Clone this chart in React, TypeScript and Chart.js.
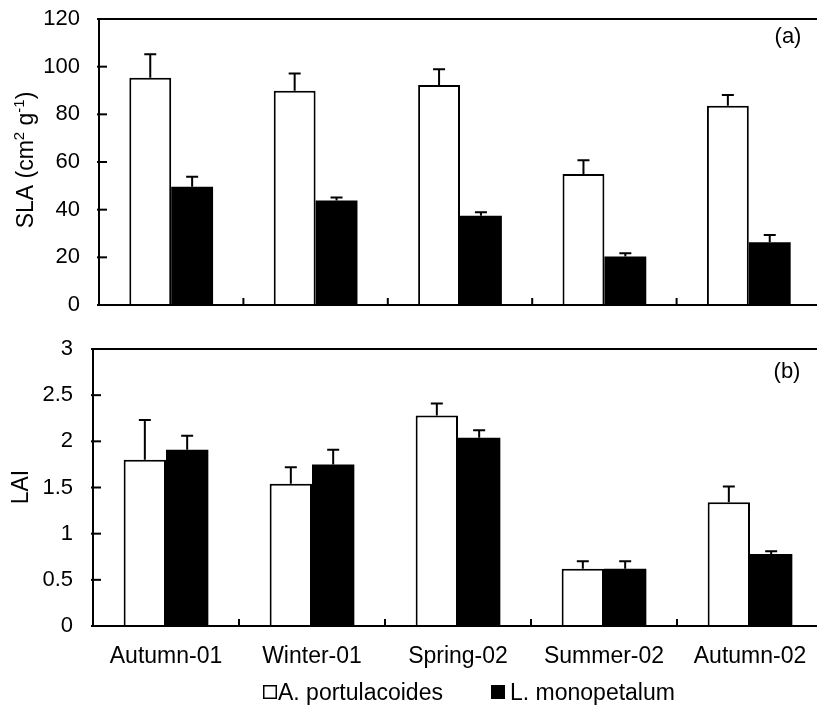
import React, { useEffect, useRef } from 'react';
import { Chart, registerables } from 'chart.js';

Chart.register(...registerables);

const categories = ['Autumn-01', 'Winter-01', 'Spring-02', 'Summer-02', 'Autumn-02'];
const seriesNames = ['A. portulacoides', 'L. monopetalum'];

// Panel (a): SLA (cm2 g-1), means and upper error
const slaPortulacoides = [95.4, 89.9, 92.3, 55.0, 83.6];
const slaPortulacoidesErr = [9.8, 7.2, 6.6, 5.7, 4.5];
const slaMonopetalum = [49.6, 43.8, 37.5, 20.4, 26.3];
const slaMonopetalumErr = [4.2, 1.3, 1.4, 1.3, 3.1];

// Panel (b): LAI, means and upper error
const laiPortulacoides = [1.80, 1.54, 2.28, 0.62, 1.34];
const laiPortulacoidesErr = [0.43, 0.18, 0.13, 0.08, 0.17];
const laiMonopetalum = [1.91, 1.75, 2.04, 0.62, 0.78];
const laiMonopetalumErr = [0.15, 0.16, 0.08, 0.08, 0.03];

const slaAxis = { min: 0, max: 120, step: 20 };
const laiAxis = { min: 0, max: 3, step: 0.5 };

const FONT = '"Liberation Sans", Arial, Helvetica, sans-serif';

type Part = { text: string; sup?: boolean };
type Area = { left: number; top: number; right: number; bottom: number };
type LayoutState = { padTop: number; padRight: number; padBottom: number; yWidth: number; xHeight: number };

function makeDecorPlugin(cfg: {
  errors: number[][];
  panelLabel: string;
  panelPos: [number, number];
  titleParts: Part[];
  titleBaselineX: number;
  titleCenterY: number;
  legend?: boolean;
}) {
  return {
    id: 'decor',
    afterDatasetsDraw(chart: any) {
      const ctx: CanvasRenderingContext2D = chart.ctx;
      const area = chart.chartArea;
      const xs = chart.scales.x;
      const ys = chart.scales.y;
      ctx.save();
      ctx.strokeStyle = '#000';
      ctx.lineWidth = 2;
      ctx.lineCap = 'butt';

      // upper error whiskers
      chart.data.datasets.forEach((ds: any, di: number) => {
        const meta = chart.getDatasetMeta(di);
        meta.data.forEach((bar: any, i: number) => {
          const v = ds.data[i];
          const e = cfg.errors[di][i];
          const yTop = ys.getPixelForValue(v + e);
          const yBar = ys.getPixelForValue(v);
          ctx.beginPath();
          ctx.moveTo(bar.x, yBar);
          ctx.lineTo(bar.x, yTop);
          ctx.moveTo(bar.x - 6, yTop);
          ctx.lineTo(bar.x + 6, yTop);
          ctx.stroke();
        });
      });

      // frame: left axis, bottom axis, top line
      ctx.beginPath();
      ctx.moveTo(area.left, area.top);
      ctx.lineTo(area.left, area.bottom);
      ctx.moveTo(area.left - 1, area.bottom);
      ctx.lineTo(area.right, area.bottom);
      ctx.moveTo(area.left - 1, area.top);
      ctx.lineTo(area.right, area.top);
      ctx.stroke();

      // inward y ticks
      ys.ticks.forEach((t: any) => {
        const y = ys.getPixelForValue(t.value);
        ctx.beginPath();
        ctx.moveTo(area.left - 2, y);
        ctx.lineTo(area.left + 8, y);
        ctx.stroke();
      });

      // inward category boundary ticks
      for (let i = 0; i < categories.length - 1; i++) {
        const x = (xs.getPixelForValue(i) + xs.getPixelForValue(i + 1)) / 2;
        ctx.beginPath();
        ctx.moveTo(x, area.bottom);
        ctx.lineTo(x, area.bottom - 7);
        ctx.stroke();
      }

      // panel label
      ctx.fillStyle = '#000';
      ctx.font = `22px ${FONT}`;
      ctx.textAlign = 'center';
      ctx.textBaseline = 'middle';
      ctx.fillText(cfg.panelLabel, cfg.panelPos[0], cfg.panelPos[1]);

      // rotated y title with superscripts
      ctx.save();
      ctx.translate(cfg.titleBaselineX, cfg.titleCenterY);
      ctx.rotate(-Math.PI / 2);
      ctx.textAlign = 'left';
      ctx.textBaseline = 'alphabetic';
      const mainFont = `23px ${FONT}`;
      const supFont = `15px ${FONT}`;
      let total = 0;
      cfg.titleParts.forEach((p) => {
        ctx.font = p.sup ? supFont : mainFont;
        total += ctx.measureText(p.text).width;
      });
      let x = -total / 2;
      cfg.titleParts.forEach((p) => {
        ctx.font = p.sup ? supFont : mainFont;
        ctx.fillText(p.text, x, p.sup ? -9 : 0);
        x += ctx.measureText(p.text).width;
      });
      ctx.restore();

      // legend
      if (cfg.legend) {
        const ds = chart.data.datasets;
        const items = [
          { box: 263, text: 278 },
          { box: 491, text: 510 },
        ];
        const boxTop = 355;
        const baseline = 370;
        ctx.font = `23px ${FONT}`;
        ctx.textAlign = 'left';
        ctx.textBaseline = 'alphabetic';
        ds.forEach((d: any, i: number) => {
          const it = items[i];
          ctx.fillStyle = d.backgroundColor;
          ctx.fillRect(it.box, boxTop, 14, 14);
          ctx.lineWidth = 1.5;
          ctx.strokeStyle = '#000';
          ctx.strokeRect(it.box + 0.75, boxTop + 0.75, 12.5, 12.5);
          ctx.fillStyle = '#000';
          ctx.fillText(d.label, it.text, baseline);
        });
      }
      ctx.restore();
    },
  };
}

function buildConfig(opts: {
  a: number[];
  b: number[];
  axis: { min: number; max: number; step: number };
  state: LayoutState;
  showX: boolean;
  tickGap: number;
  plugin: any;
}) {
  const st = opts.state;
  return {
    type: 'bar' as const,
    data: {
      labels: categories,
      datasets: [
        {
          label: seriesNames[0],
          data: opts.a,
          backgroundColor: '#ffffff',
          borderColor: '#000000',
          borderWidth: 2,
          borderSkipped: 'bottom',
          categoryPercentage: 0.58,
          barPercentage: 1.0,
        },
        {
          label: seriesNames[1],
          data: opts.b,
          backgroundColor: '#000000',
          borderColor: '#000000',
          borderWidth: 0,
          categoryPercentage: 0.58,
          barPercentage: 1.0,
        },
      ],
    },
    options: {
      responsive: false,
      animation: false,
      devicePixelRatio: 1,
      layout: { padding: { left: 0, top: st.padTop, right: st.padRight, bottom: st.padBottom } },
      plugins: {
        legend: { display: false },
        tooltip: { enabled: false },
        title: { display: false },
      },
      scales: {
        x: {
          grid: { display: false, drawTicks: false },
          border: { display: false },
          ticks: {
            display: opts.showX,
            color: '#000',
            font: { family: FONT, size: 23 },
            padding: 17,
            maxRotation: 0,
            autoSkip: false,
          },
          afterFit: (s: any) => {
            s.height = st.xHeight;
          },
        },
        y: {
          min: opts.axis.min,
          max: opts.axis.max,
          grid: {
            display: true,
            drawOnChartArea: false,
            drawTicks: true,
            tickLength: opts.tickGap,
            color: 'rgba(0,0,0,0)',
            tickColor: 'rgba(0,0,0,0)',
          },
          border: { display: false },
          ticks: {
            stepSize: opts.axis.step,
            color: '#000',
            font: { family: FONT, size: 22 },
            padding: 0,
            callback: (v: any) => String(Number(v)),
          },
          afterFit: (s: any) => {
            s.width = st.yWidth;
          },
        },
      },
    },
    plugins: [opts.plugin],
  };
}

// nudge the layout until the plot area sits where wanted
function fitArea(chart: any, want: Area, st: LayoutState) {
  for (let k = 0; k < 6; k++) {
    const ca = chart.chartArea;
    if (!ca) break;
    const dTop = want.top - ca.top;
    const dBottom = want.bottom - ca.bottom;
    const dLeft = want.left - ca.left;
    const dRight = want.right - ca.right;
    if (Math.abs(dTop) < 0.3 && Math.abs(dBottom) < 0.3 && Math.abs(dLeft) < 0.3 && Math.abs(dRight) < 0.3) break;
    st.padTop = Math.max(0, st.padTop + dTop);
    st.xHeight -= dBottom;
    st.yWidth += dLeft;
    st.padRight -= dRight;
    const p = chart.config.options.layout.padding;
    p.top = st.padTop;
    p.right = st.padRight;
    p.bottom = st.padBottom;
    chart.update();
  }
}

export default function App() {
  const topRef = useRef<HTMLCanvasElement>(null);
  const botRef = useRef<HTMLCanvasElement>(null);

  useEffect(() => {
    const topState: LayoutState = { padTop: 19, padRight: 19, padBottom: 0, yWidth: 99, xHeight: 25 };
    const botState: LayoutState = { padTop: 19, padRight: 17, padBottom: 0, yWidth: 93, xHeight: 84 };
    const top = new Chart(
      topRef.current as HTMLCanvasElement,
      buildConfig({
        a: slaPortulacoides,
        b: slaMonopetalum,
        axis: slaAxis,
        state: topState,
        showX: false,
        tickGap: 19,
        plugin: makeDecorPlugin({
          errors: [slaPortulacoidesErr, slaMonopetalumErr],
          panelLabel: '(a)',
          panelPos: [788, 37],
          titleParts: [
            { text: 'SLA (cm' },
            { text: '2', sup: true },
            { text: ' g' },
            { text: '-1', sup: true },
            { text: ')' },
          ],
          titleBaselineX: 33,
          titleCenterY: 160,
        }),
      }) as any
    );
    fitArea(top, { left: 99, top: 19, right: 821, bottom: 305 }, topState);
    const bot = new Chart(
      botRef.current as HTMLCanvasElement,
      buildConfig({
        a: laiPortulacoides,
        b: laiMonopetalum,
        axis: laiAxis,
        state: botState,
        showX: true,
        tickGap: 20,
        plugin: makeDecorPlugin({
          errors: [laiPortulacoidesErr, laiMonopetalumErr],
          panelLabel: '(b)',
          panelPos: [787, 42],
          titleParts: [{ text: 'LAI' }],
          titleBaselineX: 28,
          titleCenterY: 157,
          legend: true,
        }),
      }) as any
    );
    fitArea(bot, { left: 93, top: 19, right: 823, bottom: 296 }, botState);
    return () => {
      top.destroy();
      bot.destroy();
    };
  }, []);

  return (
    <div
      style={{
        position: 'fixed',
        left: 0,
        top: 0,
        width: 817,
        height: 710,
        overflow: 'hidden',
        background: '#fff',
      }}
    >
      <canvas
        ref={topRef}
        width={840}
        height={330}
        style={{ position: 'absolute', left: 0, top: 0, width: 840, height: 330 }}
      />
      <canvas
        ref={botRef}
        width={840}
        height={380}
        style={{ position: 'absolute', left: 0, top: 330, width: 840, height: 380 }}
      />
    </div>
  );
}
